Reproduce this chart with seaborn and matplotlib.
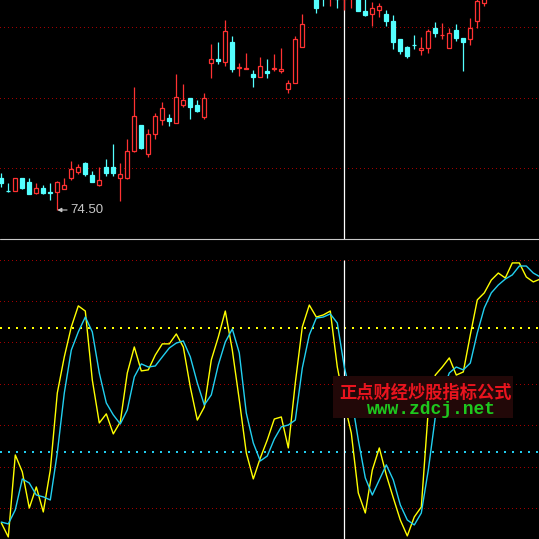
import matplotlib
matplotlib.use("Agg")
import matplotlib.pyplot as plt
from matplotlib.patches import Rectangle
from matplotlib.lines import Line2D
import numpy as np
import pandas as pd
import seaborn as sns

# ---- daily candles -------------------------------------------------------
opens = [77.7, 76.45, 76.4, 77.7, 77.3, 76.2, 76.7, 76.3, 76.3, 76.6,
         77.7, 78.3, 79.2, 78.0, 77.0, 78.8, 78.8, 77.7, 77.7, 80.4,
         83.0, 80.1, 82.1, 83.5, 83.7, 83.2, 85.0, 85.7, 85.0, 83.8,
         89.2, 89.6, 89.3, 91.3, 88.75, 88.65, 88.1, 87.8, 88.4, 88.65,
         88.4, 86.6, 87.2, 90.8, 95.9, 96.3, 96.5, 95.7, 96.5, 95.6,
         95.7, 96.1, 94.4, 94.1, 94.5, 94.1, 93.4, 91.6, 90.8, 91.0,
         90.5, 90.7, 92.7, 91.97, 90.7, 92.5, 91.7, 91.6, 93.4, 95.2]
closes = [77.2, 76.4, 77.7, 76.7, 76.1, 76.7, 76.2, 76.25, 77.3, 77.0,
          78.6, 78.8, 78.1, 77.3, 77.5, 78.2, 78.2, 78.1, 80.4, 83.9,
          80.7, 82.1, 83.9, 84.7, 83.4, 85.8, 85.5, 84.8, 84.4, 85.7,
          89.6, 89.4, 92.4, 88.6, 88.8, 88.7, 87.8, 88.9, 88.2, 88.7,
          88.6, 87.2, 91.6, 93.1, 96.9, 94.7, 95.7, 96.5, 95.6, 96.5,
          96.7, 94.4, 94.0, 94.7, 94.9, 93.4, 91.3, 90.4, 89.9, 90.97,
          90.7, 92.4, 92.2, 92.0, 92.2, 91.7, 91.3, 92.7, 95.4, 96.0]
highs = [78.2, 77.2, 77.7, 77.7, 77.7, 77.2, 77.0, 77.2, 77.4, 77.7,
         79.4, 79.1, 79.3, 78.4, 78.8, 79.6, 81.1, 79.2, 81.6, 86.8,
         83.0, 82.6, 84.2, 85.3, 84.1, 88.1, 87.1, 85.7, 85.5, 86.2,
         91.1, 91.3, 93.5, 91.9, 89.2, 90.2, 88.5, 89.8, 89.6, 90.1,
         90.7, 87.5, 91.9, 94.1, 97.3, 96.7, 96.9, 96.9, 96.8, 96.9,
         97.0, 96.5, 95.8, 95.3, 95.2, 94.5, 94.0, 91.6, 90.9, 92.0,
         91.8, 92.6, 93.3, 93.2, 92.7, 93.1, 91.7, 93.7, 95.7, 96.3]
lows = [76.8, 76.3, 76.4, 76.6, 76.1, 76.1, 76.1, 75.5, 74.5, 76.6,
        77.5, 78.1, 77.9, 77.3, 76.9, 77.9, 77.9, 75.4, 77.6, 80.3,
        80.6, 79.8, 81.6, 83.0, 82.9, 83.2, 84.8, 83.6, 84.3, 83.6,
        87.7, 89.1, 88.9, 88.3, 87.9, 88.6, 86.8, 87.8, 87.7, 88.4,
        88.2, 86.2, 87.2, 90.8, 95.7, 94.2, 94.9, 94.9, 94.7, 94.5,
        94.7, 94.4, 93.9, 92.9, 93.8, 92.9, 90.6, 90.1, 89.7, 90.6,
        90.0, 90.2, 91.8, 91.6, 90.7, 91.4, 88.4, 91.0, 92.7, 94.9]

# ---- oscillator (fast / slow) --------------------------------------------
fast_line = [-14.4, -21.2, 18.5, 10.3, -7.2, 3.0, -9.1, 11.2, 48.5, 66.0,
             80.5, 90.7, 88.2, 54.8, 34.0, 38.4, 28.7, 34.5, 58.2, 70.8,
             59.2, 59.7, 66.9, 72.3, 72.3, 77.1, 70.8, 51.4, 35.4, 41.7,
             64.5, 75.6, 88.2, 69.3, 45.1, 19.5, 6.9, 17.0, 25.8, 35.9,
             36.9, 21.9, 53.4, 80.5, 91.1, 85.3, 86.3, 88.2, 61.1, 43.7,
             29.1, 0.1, -9.6, 11.2, 21.9, 8.8, -2.3, -13.0, -20.7, -11.5,
             -6.7, 40.3, 57.2, 61.1, 65.5, 57.2, 58.7, 76.6, 93.6, 97.0,
             103.2, 106.6, 104.2, 111.5, 111.5, 104.7, 102.3, 103.7]
slow_line = [-14.0, -14.9, -8.1, 6.9, 4.9, -0.9, -1.8, -3.3, 19.5, 48.5,
             69.3, 78.1, 85.3, 78.1, 58.2, 43.7, 37.9, 33.5, 40.3, 56.3,
             62.6, 61.1, 61.6, 66.0, 70.3, 72.7, 73.7, 66.0, 53.4, 42.7,
             47.6, 62.1, 73.2, 79.5, 67.9, 38.8, 24.3, 15.6, 18.0, 26.2,
             32.1, 33.0, 35.4, 60.6, 76.6, 84.8, 85.3, 86.8, 82.4, 61.1,
             46.6, 25.8, 7.4, -0.9, 6.4, 13.7, 6.4, -5.7, -13.0, -15.4,
             -9.6, 11.2, 36.9, 49.0, 58.2, 61.1, 59.7, 63.0, 77.6, 89.7,
             97.0, 100.8, 103.7, 105.7, 110.0, 110.0, 106.6, 104.7]

price_grid = [92.8, 85.75, 78.7]
osc_grid = [112.8, 92.9, 73.1, 52.7, 32.9, 12.5, -7.3]
upper_level = 80
lower_level = 20
cursor_bar = 49

RED = "#ff3232"
CYAN = "#54ffff"
GRID = "#a00000"

sns.set_theme(style="dark", rc={"axes.facecolor": "black",
                                "figure.facecolor": "black"})
plt.rcParams["font.family"] = ["Noto Sans CJK SC", "DejaVu Sans"]

W = 539
fig = plt.figure(figsize=(W / 100, W / 100), dpi=100)
ax1 = fig.add_axes([0, 1 - 239 / W, 1, 239 / W])
ax2 = fig.add_axes([0, 0, 1, 299 / W])
xlim = (-1.3 / 7, (W - 1.3) / 7)


def dotted(ax, y, color, pattern, lw=0.72):
    ax.axhline(y, color=color, lw=lw, ls=(0, pattern), zorder=1,
               antialiased=False)


candles = pd.DataFrame({"open": opens, "close": closes,
                        "high": highs, "low": lows})
candles["idx"] = np.arange(len(candles))
up = candles["close"] >= candles["open"]

# ---- price panel ---------------------------------------------------------
ax1.set_xlim(*xlim)
ax1.set_ylim(71.6, 95.5)
for g in price_grid:
    dotted(ax1, g, GRID, (1, 3.2))
ax1.axvline(cursor_bar, color="white", lw=0.9, zorder=2)

colors = np.where(up, RED, CYAN)
ax1.vlines(candles["idx"], candles["low"], candles["high"],
           colors=colors, lw=0.9, zorder=3)
body_lo = np.minimum(candles["open"], candles["close"])
body_h = (candles["close"] - candles["open"]).abs()
ax1.bar(candles["idx"][up], body_h[up], bottom=body_lo[up], width=0.6,
        facecolor="black", edgecolor=RED, lw=0.9, zorder=4)
ax1.bar(candles["idx"][~up], body_h[~up], bottom=body_lo[~up], width=0.6,
        facecolor=CYAN, edgecolor=CYAN, lw=0.9, zorder=4)

i_min = int(candles["low"].idxmin())
low_min = candles["low"].min()
ax1.annotate(f"{low_min:.2f}", xy=(i_min, low_min), xytext=(13, 0),
             textcoords="offset pixels", ha="left", va="center",
             color="#c8c8c8", fontsize=9.5, family=["Liberation Sans"],
             arrowprops=dict(arrowstyle="-|>", color="#c8c8c8", lw=0.8,
                             shrinkA=0, shrinkB=0, mutation_scale=6),
             zorder=6)
ax1.axis("off")

# ---- oscillator panel ----------------------------------------------------
osc = pd.DataFrame({"idx": np.arange(len(fast_line)),
                    "fast": fast_line, "slow": slow_line})
ax2.set_xlim(*xlim)
ax2.set_ylim(-22.2, 122.6)
for g in osc_grid:
    dotted(ax2, g, GRID, (1, 3.2))
dotted(ax2, upper_level, "#ffff00", (1, 3), lw=1.44)
dotted(ax2, lower_level, "#22ccee", (1, 3), lw=1.44)
ax2.vlines(cursor_bar, -30, osc_grid[0], color="white", lw=0.9, zorder=2)

sns.lineplot(data=osc, x="idx", y="fast", color="#ffff00", lw=1.0,
             estimator=None, ax=ax2, zorder=3)
sns.lineplot(data=osc, x="idx", y="slow", color="#22d0f0", lw=1.0,
             estimator=None, ax=ax2, zorder=3)
ax2.axis("off")

# divider between panels
fig.add_artist(Line2D([0, 1], [1 - 239.5 / W, 1 - 239.5 / W],
                      transform=fig.transFigure, color="#c8c8c8", lw=0.8))

# site banner
fig.add_artist(Rectangle((333 / W, 1 - 418 / W), 180 / W, 42 / W,
                         transform=fig.transFigure, facecolor="#220808",
                         edgecolor="none", zorder=5))
fig.text(426 / W, 1 - 393 / W, "正点财经炒股指标公式", color="#e8141e",
         fontsize=12.4, fontweight="bold", ha="center", va="center",
         family=["Noto Sans CJK SC", "DejaVu Sans"], zorder=6)
fig.text(431 / W, 1 - 409 / W, "www.zdcj.net", color="#1ec81e",
         fontsize=13, fontweight="bold", ha="center", va="center",
         family=["Liberation Mono"], zorder=6)

fig.savefig("out.png", dpi=100, facecolor="black")
